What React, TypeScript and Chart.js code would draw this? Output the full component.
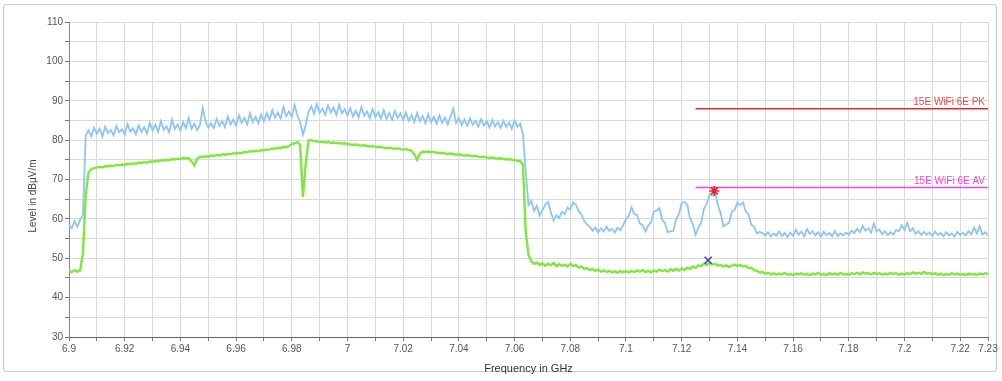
import React, { useEffect, useRef } from 'react';
import { Chart, registerables } from 'chart.js';

Chart.register(...registerables);

// Sampling grid of the receiver sweep (GHz)
const FREQ_START = 6.9;
const FREQ_STEP = 0.001;

// Peak trace (blue), dBµV/m, one value per 1 MHz from 6.900 GHz
const peakTrace = [
  58.5, 57.6, 59.4, 58.0, 59.8, 61.0, 81.2, 82.5, 81.0, 83.2,
  81.6, 82.9, 80.9, 83.4, 81.8, 82.6, 81.2, 83.6, 82.0, 82.8,
  81.4, 84.1, 82.2, 83.0, 81.5, 83.7, 82.1, 83.3, 81.7, 84.4,
  82.4, 83.9, 82.1, 84.8, 82.6, 83.5, 82.0, 85.2, 82.8, 84.0,
  82.4, 84.6, 83.0, 85.6, 82.9, 84.2, 82.5, 83.8, 88.2, 84.9,
  83.2, 84.3, 83.1, 85.4, 83.6, 84.8, 83.3, 86.0, 84.0, 85.2,
  83.7, 86.3, 84.4, 85.6, 84.0, 86.8, 84.6, 85.9, 84.3, 86.5,
  84.8, 86.9, 85.2, 87.6, 85.7, 87.0, 85.5, 88.4, 86.1, 87.3,
  85.9, 88.9, 86.3, 84.6, 81.4, 83.8, 87.2, 88.6, 86.7, 89.2,
  86.9, 88.0, 86.5, 88.8, 87.0, 88.3, 86.4, 89.0, 86.8, 87.9,
  86.3, 88.1, 86.0, 87.5, 85.8, 88.4, 86.2, 87.3, 85.6, 87.9,
  85.9, 87.1, 85.5, 87.6, 85.4, 86.9, 85.2, 87.4, 85.6, 86.8,
  85.1, 87.0, 84.9, 86.4, 84.6, 86.9, 84.8, 86.1, 84.3, 86.6,
  84.5, 85.9, 84.2, 86.3, 84.4, 85.7, 84.0, 86.0, 88.0, 84.3,
  85.6, 83.8, 85.2, 83.6, 85.5, 83.9, 84.9, 83.4, 85.3, 83.7,
  84.8, 83.2, 85.1, 83.5, 84.6, 83.1, 84.9, 83.3, 84.5, 82.9,
  85.0, 83.4, 84.2, 81.5, 72.0, 63.5, 64.5, 62.0, 63.3, 60.8,
  62.2, 63.6, 64.3, 61.8, 59.6, 60.9, 60.2, 61.8, 61.2, 62.9,
  62.3, 64.2, 63.6, 62.0, 61.1, 59.5, 58.6, 58.0, 57.0, 57.8,
  56.6, 57.6, 56.8, 58.0, 56.9, 57.5, 56.5, 57.8, 57.1, 58.4,
  59.9, 60.8, 62.9, 61.3, 60.9, 58.8, 58.4, 56.8, 58.3, 59.1,
  61.9, 62.1, 62.7, 59.8, 58.9, 56.6, 56.8, 57.0, 59.9, 61.2,
  64.0, 64.3, 63.6, 60.1, 58.6, 56.0, 57.8, 59.0, 62.6, 63.8,
  66.2, 65.9, 66.9, 63.5, 61.4, 58.1, 58.6, 59.0, 61.8, 62.3,
  64.1, 63.5, 64.2, 61.9, 61.2, 58.5, 58.0, 56.3, 56.7, 56.4,
  55.8, 56.6, 55.5, 56.3, 55.7, 56.8, 55.6, 56.4, 55.4, 56.5,
  55.7, 57.2, 56.0, 56.8, 55.6, 57.4, 56.2, 56.9, 55.8, 56.6,
  55.5, 56.7, 55.9, 56.4, 55.6, 56.9, 55.7, 56.3, 55.8, 56.5,
  56.0, 57.0, 56.4, 57.5, 56.6, 58.2, 57.0, 57.6, 56.5, 58.8,
  56.8, 57.3, 56.1, 56.9, 55.9, 56.6, 56.0, 57.2, 56.8, 58.4,
  57.2, 59.0, 56.9, 57.6, 56.2, 56.9, 55.9, 56.7, 56.0, 56.5,
  55.7, 56.8, 55.9, 56.4, 55.6, 56.6, 55.8, 56.3, 55.5, 56.7,
  55.9, 56.5, 55.8, 56.9, 56.1, 57.8, 56.3, 58.2, 56.0, 56.6,
  55.8,
];

// Average trace (green), dBµV/m, same sampling grid
const avgTrace = [
  46.8, 46.5, 47.0, 46.6, 46.9, 51.3, 66.0, 71.8, 72.6, 72.9,
  73.0, 73.2, 73.1, 73.4, 73.3, 73.5, 73.4, 73.7, 73.6, 73.8,
  73.7, 74.0, 73.9, 74.1, 74.0, 74.3, 74.2, 74.4, 74.3, 74.6,
  74.5, 74.7, 74.6, 74.9, 74.8, 75.0, 74.9, 75.2, 75.1, 75.3,
  75.2, 75.5, 75.4, 75.4, 74.6, 73.6, 75.2, 75.8, 75.7, 75.9,
  75.8, 76.1, 76.0, 76.2, 76.1, 76.4, 76.3, 76.5, 76.4, 76.7,
  76.6, 76.8, 76.7, 77.0, 76.9, 77.2, 77.1, 77.3, 77.2, 77.5,
  77.4, 77.6, 77.6, 77.9, 77.8, 78.0, 78.0, 78.3, 78.2, 78.5,
  79.0, 79.2, 79.5, 78.8, 65.6, 74.0, 79.9, 80.0, 79.8, 79.7,
  79.5, 79.6, 79.4, 79.5, 79.3, 79.4, 79.2, 79.3, 79.1, 79.2,
  79.0, 78.9, 78.8, 78.9, 78.7, 78.6, 78.7, 78.5, 78.4, 78.5,
  78.3, 78.2, 78.3, 78.1, 78.0, 78.1, 77.9, 77.8, 77.9, 77.7,
  77.6, 77.7, 77.5, 77.3, 76.4, 75.0, 76.6, 77.1, 77.0, 77.1,
  76.9, 77.0, 76.8, 76.7, 76.8, 76.6, 76.5, 76.6, 76.4, 76.3,
  76.4, 76.2, 76.1, 76.2, 76.0, 75.9, 76.0, 75.8, 75.7, 75.8,
  75.6, 75.5, 75.6, 75.4, 75.3, 75.4, 75.2, 75.1, 75.2, 75.0,
  74.9, 74.8, 74.6, 73.8, 56.7, 50.8, 49.2, 48.6, 48.9, 48.3,
  48.7, 48.1, 48.6, 48.2, 48.8, 48.0, 48.5, 48.1, 48.4, 47.9,
  48.6, 48.0, 48.3, 47.6, 47.9, 47.3, 47.5, 47.0, 47.3, 46.8,
  47.1, 46.6, 46.9, 46.5, 46.8, 46.4, 46.7, 46.3, 46.8, 46.4,
  46.7, 46.4, 46.8, 46.5, 46.9, 46.6, 47.0, 46.5, 46.8, 46.4,
  46.9, 46.6, 47.1, 46.7, 47.0, 46.6, 47.2, 46.8, 47.3, 46.9,
  47.4, 47.0, 47.6, 47.3, 47.9, 47.5, 48.2, 48.0, 48.6, 48.3,
  48.8, 48.4, 48.6, 48.1, 48.3, 47.9, 48.2, 47.8, 48.1, 48.4,
  48.0, 48.3, 47.9, 48.1, 47.5, 47.6, 47.0, 46.8, 46.4, 46.5,
  46.1, 46.3, 45.9, 46.2, 45.8, 46.1, 45.9, 46.3, 45.8, 46.0,
  45.7, 46.1, 45.9, 46.2, 45.8, 46.0, 45.7, 46.1, 45.9, 46.3,
  45.8, 46.0, 45.7, 46.2, 45.9, 46.1, 45.8, 46.3, 45.9, 46.0,
  45.8, 46.2, 46.0, 46.3, 45.9, 46.4, 46.1, 46.2, 45.9, 46.3,
  46.0, 46.2, 45.8, 46.1, 45.9, 46.3, 46.0, 46.2, 45.8, 46.1,
  45.9, 46.2, 46.0, 46.4, 46.1, 46.3, 46.0, 46.5, 46.1, 46.3,
  45.9, 46.2, 45.8, 46.1, 45.7, 46.0, 45.8, 46.2, 45.9, 46.1,
  45.8, 46.0, 45.7, 46.1, 45.9, 46.0, 45.8, 46.1, 45.9, 46.2,
  46.0,
];

// Limit lines
const pkLimitFreq = [7.125, 7.23];
const pkLimitLevel = [88, 88];
const pkLimitName = '15E WiFi 6E PK';
const avLimitFreq = [7.125, 7.23];
const avLimitLevel = [68, 68];
const avLimitName = '15E WiFi 6E AV';

// Final measurement markers
const pkMarkerFreq = [7.1317];
const pkMarkerLevel = [67.1];
const avMarkerFreq = [7.1295];
const avMarkerLevel = [49.5];

// Axis ticks
const xTickValues = [
  6.9, 6.91, 6.92, 6.93, 6.94, 6.95, 6.96, 6.97, 6.98, 6.99,
  7.0, 7.01, 7.02, 7.03, 7.04, 7.05, 7.06, 7.07, 7.08, 7.09,
  7.1, 7.11, 7.12, 7.13, 7.14, 7.15, 7.16, 7.17, 7.18, 7.19,
  7.2, 7.21, 7.22, 7.23,
];
const xTickLabels = [
  '6.9', '', '6.92', '', '6.94', '', '6.96', '', '6.98', '',
  '7', '', '7.02', '', '7.04', '', '7.06', '', '7.08', '',
  '7.1', '', '7.12', '', '7.14', '', '7.16', '', '7.18', '',
  '7.2', '', '7.22', '7.23',
];
const yTickValues = [30, 35, 40, 45, 50, 55, 60, 65, 70, 75, 80, 85, 90, 95, 100, 105, 110];
const yTickLabels = ['30', '', '40', '', '50', '', '60', '', '70', '', '80', '', '90', '', '100', '', '110'];

const xTitle = 'Frequency in GHz';
const yTitle = 'Level in dBµV/m';

const FONT = '"Liberation Sans", Arial, sans-serif';

const toPoints = (vals: number[]) =>
  vals.map((v, i) => ({ x: +(FREQ_START + i * FREQ_STEP).toFixed(3), y: v }));
const pairPoints = (xs: number[], ys: number[]) => xs.map((x, i) => ({ x, y: ys[i] }));

const annotationPlugin = {
  id: 'emiAnnotations',
  afterDatasetsDraw(chart: any) {
    const ctx = chart.ctx;
    const xs = chart.scales.x;
    const ys = chart.scales.y;
    ctx.save();
    ctx.font = `10px ${FONT}`;
    ctx.textAlign = 'right';
    ctx.textBaseline = 'bottom';
    ctx.fillStyle = '#f04848';
    ctx.fillText(pkLimitName, xs.getPixelForValue(pkLimitFreq[1]) - 3, ys.getPixelForValue(pkLimitLevel[1]) - 1);
    ctx.fillStyle = '#e848e0';
    ctx.fillText(avLimitName, xs.getPixelForValue(avLimitFreq[1]) - 3, ys.getPixelForValue(avLimitLevel[1]) - 1);
    ctx.restore();

    ctx.save();
    ctx.font = `10px ${FONT}`;
    ctx.fillStyle = '#444';
    ctx.textAlign = 'center';
    ctx.textBaseline = 'middle';
    ctx.translate(33, 196);
    ctx.rotate(-Math.PI / 2);
    ctx.fillText(yTitle, 0, 0);
    ctx.restore();
  },
};

export default function App() {
  const ref = useRef<HTMLCanvasElement | null>(null);

  useEffect(() => {
    if (!ref.current) return;
    const chart = new Chart(ref.current, {
      type: 'line',
      data: {
        datasets: [
          {
            label: 'PK marker',
            data: pairPoints(pkMarkerFreq, pkMarkerLevel),
            showLine: false,
            pointStyle: 'star',
            pointRadius: 5,
            pointBorderWidth: 1.5,
            borderColor: '#f02020',
            backgroundColor: '#f02020',
            order: 0,
          },
          {
            label: 'AV marker',
            data: pairPoints(avMarkerFreq, avMarkerLevel),
            showLine: false,
            pointStyle: 'crossRot',
            pointRadius: 5,
            pointBorderWidth: 1.5,
            borderColor: '#3a3ad8',
            backgroundColor: '#3a3ad8',
            order: 0,
          },
          {
            label: pkLimitName,
            data: pairPoints(pkLimitFreq, pkLimitLevel),
            borderColor: '#e82828',
            borderWidth: 1.5,
            pointRadius: 0,
            order: 1,
          },
          {
            label: avLimitName,
            data: pairPoints(avLimitFreq, avLimitLevel),
            borderColor: '#ee44e4',
            borderWidth: 1.5,
            pointRadius: 0,
            order: 1,
          },
          {
            label: 'PK',
            data: toPoints(peakTrace),
            borderColor: '#8cc6f6',
            borderWidth: 1.8,
            pointRadius: 0,
            order: 3,
          },
          {
            label: 'AV',
            data: toPoints(avgTrace),
            borderColor: '#7ee83c',
            borderWidth: 2.4,
            pointRadius: 0,
            order: 2,
          },
        ],
      },
      options: {
        animation: false,
        responsive: false,
        devicePixelRatio: 1,
        layout: { padding: { left: 0, right: 14, top: 22, bottom: 3 } },
        plugins: {
          legend: { display: false },
          tooltip: { enabled: false },
        },
        scales: {
          x: {
            type: 'linear',
            min: 6.9,
            max: 7.23,
            afterBuildTicks: (s: any) => {
              s.ticks = xTickValues.map((v) => ({ value: v }));
            },
            afterFit: (s: any) => {
              s.height = 41;
            },
            ticks: {
              autoSkip: false,
              maxRotation: 0,
              minRotation: 0,
              padding: 2,
              color: '#555',
              font: { size: 10, family: FONT },
              callback: (_v: any, i: number) => xTickLabels[i],
            },
            grid: { color: '#dadada', tickLength: 4, tickColor: '#777', lineWidth: 1 },
            border: { color: '#666' },
            title: {
              display: true,
              text: xTitle,
              color: '#333',
              font: { size: 11, family: FONT },
              padding: { top: 0, bottom: 2 },
            },
          },
          y: {
            type: 'linear',
            min: 30,
            max: 110,
            afterBuildTicks: (s: any) => {
              s.ticks = yTickValues.map((v) => ({ value: v }));
            },
            afterFit: (s: any) => {
              s.width = 69;
            },
            ticks: {
              autoSkip: false,
              padding: 2,
              color: '#555',
              font: { size: 10, family: FONT },
              callback: (_v: any, i: number) => yTickLabels[i],
            },
            grid: { color: '#dadada', tickLength: 4, tickColor: '#777', lineWidth: 1 },
            border: { color: '#888' },
          },
        },
      },
      plugins: [annotationPlugin],
    } as any);
    return () => chart.destroy();
  }, []);

  return (
    <div style={{ position: 'fixed', left: 0, top: 0, width: 1002, height: 381, background: '#fff' }}>
      <div
        style={{
          position: 'absolute',
          left: 3,
          top: 4,
          width: 994,
          height: 368,
          border: '1px solid #c9c9c9',
          borderRadius: 3,
          boxSizing: 'border-box',
        }}
      />
      <canvas ref={ref} width={1002} height={381} style={{ position: 'absolute', left: 0, top: 0 }} />
    </div>
  );
}
